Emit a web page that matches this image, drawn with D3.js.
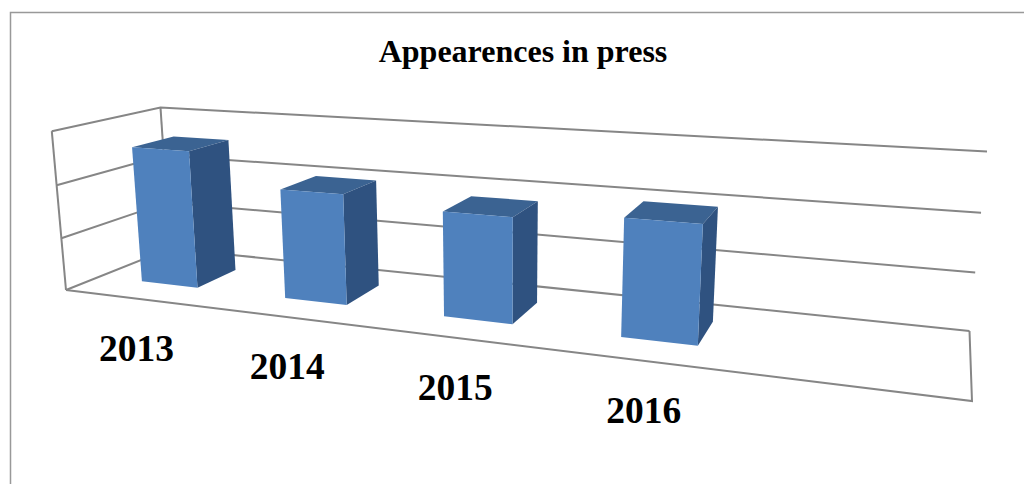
<!DOCTYPE html>
<html>
<head>
<meta charset="utf-8">
<script src="https://cdn.jsdelivr.net/npm/d3@7"></script>
<style>
html, body { margin: 0; padding: 0; background: #fff; overflow: hidden; }
text { font-family: "Liberation Serif", serif; font-weight: bold; fill: #000; }
</style>
</head>
<body>
<svg id="chart" width="1024" height="484"></svg>
<script>
// chart data
const title = 'Appearences in press';
const years = ['2013', '2014', '2015', '2016', ''];   // last slot is empty in the original
const appearances = [130, 101, 93, 100];
const grid_ticks = [0, 50, 100, 150];

// screen corners of the floor, and the vanishing point of the verticals
const floor_quad = [[66, 290], [972, 401], [969.5, 331], [170, 248.5]];
const vertical_vp = [500, 5142];
const VP_WEIGHT = -0.0317;

// perspective camera fitted on the floor corners
function make_camera(q) {
    const [[x0, y0], [x1, y1], [x2, y2], [x3, y3]] = q;
    const dx1 = x1 - x2, dx2 = x3 - x2, sx = x0 - x1 + x2 - x3;
    const dy1 = y1 - y2, dy2 = y3 - y2, sy = y0 - y1 + y2 - y3;
    const den = dx1 * dy2 - dx2 * dy1;
    const g = (sx * dy2 - dx2 * sy) / den;
    const h = (dx1 * sy - sx * dy1) / den;
    return (u, d, t) => {
        const w = g * u + h * d + 1 + VP_WEIGHT * t;
        return [
            ((x1 - x0 + g * x1) * u + (x3 - x0 + h * x3) * d + x0 + VP_WEIGHT * vertical_vp[0] * t) / w,
            ((y1 - y0 + g * y1) * u + (y3 - y0 + h * y3) * d + y0 + VP_WEIGHT * vertical_vp[1] * t) / w
        ];
    };
}
const camera = make_camera(floor_quad);

const u_scale = d3.scaleBand().domain(years).range([0.0025, 1.0025]).paddingInner(0.6).paddingOuter(0.3);
const h_scale = d3.scaleLinear().domain([0, 150]).range([0, 1]);
const DEPTH_FRONT = 0.3, DEPTH_BACK = 0.7;

// (u, depth, value) -> screen
function project(u, d, value) {
    return camera(u, d, h_scale(value));
}

const svg = d3.select('#chart');
const line = d3.line();
const GRAY = '#868686';

// outer frame, open to the right and bottom
svg.append('path')
    .attr('d', 'M10.5,484V12.5H1024')
    .attr('fill', 'none').attr('stroke', '#999').attr('stroke-width', 1.5);

svg.append('text')
    .text(title)
    .attr('x', 523).attr('y', 62)
    .attr('text-anchor', 'middle')
    .attr('font-size', 32);

// walls and gridlines
const grid_g = svg.append('g').attr('fill', 'none').attr('stroke', GRAY).attr('stroke-width', 2);
grid_ticks.forEach(v => {
    grid_g.append('path').attr('d', line([project(0, 0, v), project(0, 1, v), project(1, 1, v)]));
});
grid_g.append('path').attr('d', line([project(0, 0, 0), project(0, 0, 150)]));
grid_g.append('path').attr('d', line([project(0, 1, 0), project(0, 1, 150)]));
// floor front and right edges
grid_g.append('path').attr('d', line([project(0, 0, 0), project(1, 0, 0), project(1, 1, 0)]));

// bars
const bars = svg.selectAll('g.bar')
    .data(appearances)
    .join('g')
    .attr('class', 'bar');

bars.each(function (v, i) {
    const u0 = u_scale(years[i]), u1 = u0 + u_scale.bandwidth();
    const g = d3.select(this);
    const d0 = DEPTH_FRONT, d1 = DEPTH_BACK;
    g.append('path').attr('fill', '#3B6392').attr('d', line([
        project(u0, d0, v), project(u1, d0, v), project(u1, d1, v), project(u0, d1, v)
    ]) + 'Z');
    g.append('path').attr('fill', '#2F5280').attr('d', line([
        project(u1, d0, 0), project(u1, d1, 0), project(u1, d1, v), project(u1, d0, v)
    ]) + 'Z');
    g.append('path').attr('fill', '#4F81BD').attr('d', line([
        project(u0, d0, 0), project(u1, d0, 0), project(u1, d0, v), project(u0, d0, v)
    ]) + 'Z');
});

// category labels, hanging under the floor edge
svg.selectAll('text.year')
    .data(years.filter(y => y))
    .join('text')
    .attr('class', 'year')
    .text(d => d)
    .attr('text-anchor', 'middle')
    .attr('font-size', 37.5)
    .attr('x', d => project(u_scale(d) + u_scale.bandwidth() / 2, 0, 0)[0] - 1)
    .attr('y', d => project(u_scale(d) + u_scale.bandwidth() / 2, 0, 0)[1] + 62);
</script>
</body>
</html>
